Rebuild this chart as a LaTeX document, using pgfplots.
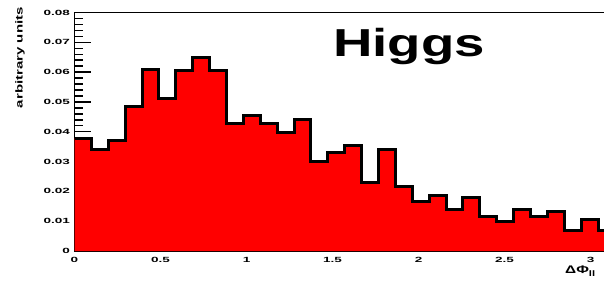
\documentclass[border=0pt]{standalone}
\usepackage{pgfplots}
\pgfplotsset{compat=1.18}
\usepackage{fontspec}
\setmainfont{Liberation Sans}
\newfontfamily\tickfont[FakeStretch=1.8]{Liberation Sans}
\newfontfamily\higgsfont[FakeStretch=1.4]{Liberation Sans}
\newfontfamily\ylabfont[FakeStretch=1.5]{Liberation Sans}
\newfontfamily\xlabfont[FakeStretch=1.4]{Liberation Sans}
\pgfplotstableread{
x y
0.0000 0.0378
0.0982 0.0339
0.1963 0.0372
0.2945 0.0486
0.3927 0.0609
0.4909 0.0510
0.5890 0.0605
0.6872 0.0649
0.7854 0.0605
0.8836 0.0426
0.9817 0.0453
1.0799 0.0428
1.1781 0.0398
1.2763 0.0442
1.3744 0.0300
1.4726 0.0331
1.5708 0.0353
1.6690 0.0229
1.7671 0.0339
1.8653 0.0216
1.9635 0.0165
2.0617 0.0185
2.1598 0.0138
2.2580 0.0179
2.3562 0.0115
2.4544 0.0098
2.5525 0.0138
2.6507 0.0115
2.7489 0.0134
2.8471 0.0070
2.9452 0.0104
3.0434 0.0070
3.1416 0.0070
}\histdata
\begin{document}
\begin{tikzpicture}
\useasboundingbox (0,0) rectangle (604bp,281bp);
\fill[white] (0,0) rectangle (604bp,281bp);
\begin{axis}[
  at={(74.5bp,30bp)}, anchor=south west,
  scale only axis, width=540.4bp, height=238.5bp,
  xmin=0, xmax=3.1416, ymin=0, ymax=0.08,
  scaled y ticks=false, scaled x ticks=false,
  axis line style={line width=1.6bp},
  tick align=inside, tick pos=left,
  xtick={0,0.5,1,1.5,2,2.5,3},
  xticklabels={0,0.5,1,1.5,2,2.5,3},
  ytick={0,0.01,0.02,0.03,0.04,0.05,0.06,0.07,0.08},
  yticklabels={0,0.01,0.02,0.03,0.04,0.05,0.06,0.07,0.08},
  minor x tick num=4, minor y tick num=4,
  xtick style={line width=1.4bp, black, /pgfplots/major tick length=7bp, /pgfplots/minor tick length=3.5bp},
  ytick style={line width=1.4bp, black, /pgfplots/major tick length=16bp, /pgfplots/minor tick length=8bp},
  /pgf/number format/assume math mode=true,
  ticklabel style={font=\tickfont\bfseries\fontsize{7.5bp}{8bp}\selectfont, inner sep=0pt},
  xticklabel style={anchor=north, yshift=-6bp},
  yticklabel style={anchor=east, xshift=-4.5bp},
]
\addplot[const plot, draw=none, fill=red] table[x=x,y=y] {\histdata} \closedcycle;
\addplot[const plot, draw=black, line width=3bp, line join=miter] table[x=x,y=y] {\histdata};
\node[anchor=base west, inner sep=0pt, font=\higgsfont\bfseries\fontsize{39bp}{40bp}\selectfont] at (axis cs:1.503,0.0652) {Higgs};
\end{axis}
\node[rotate=90, anchor=east, inner sep=0pt, font=\ylabfont\bfseries\fontsize{10bp}{11bp}\selectfont] at (20bp,274bp) {arbitrary units};
\node[anchor=north west, inner sep=0pt, font=\xlabfont\bfseries\fontsize{11bp}{12bp}\selectfont] at (565bp,15bp) {ΔΦ\raisebox{-3bp}{\fontsize{8bp}{9bp}\selectfont ll}};
\end{tikzpicture}
\end{document}
